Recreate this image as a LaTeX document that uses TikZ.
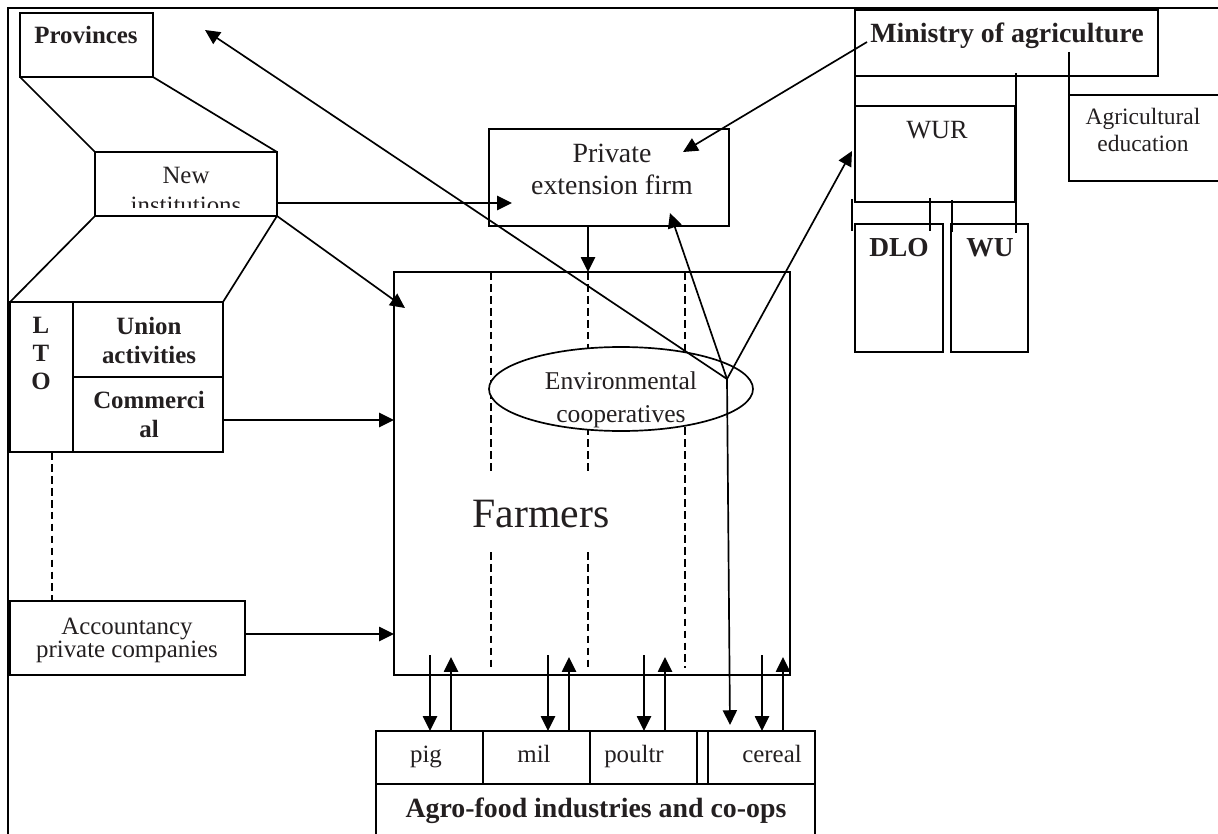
\documentclass[tikz,border=0pt]{standalone}
\usepackage{fontspec}
\setmainfont{Liberation Serif}
\usetikzlibrary{arrows.meta,shapes.geometric}
\definecolor{ink}{RGB}{35,31,32}

\tikzset{
  box/.style={draw, line width=1.2pt, inner sep=0pt, outer sep=0pt, anchor=north west},
  wh/.style 2 args={minimum width=#1*0.025cm, minimum height=#2*0.025cm},
  link/.style={line width=1.2pt},
  arr/.style={line width=1.2pt, -{Triangle[length=10.5pt,width=10pt]}},
  dsh/.style={line width=1.2pt, dash pattern=on 5.5pt off 3pt},
  lbl/.style={text=ink, inner sep=0pt, anchor=base, align=center},
  fs/.style 2 args={font=\fontsize{#1}{#2}\selectfont},
  fsb/.style 2 args={font=\fontsize{#1}{#2}\selectfont\bfseries}
}

\begin{document}
\begin{tikzpicture}[x=0.025cm,y=-0.025cm]
        \useasboundingbox (0,0) rectangle (1218,834);

        % frame
        \draw[link] (8,834) -- (8,8) -- (1218,8);

        % provinces and new institutions
        \node[box,wh={133}{64}] (prov) at (20,13) {};
        \node[lbl,fsb={17.7}{20}] (provtxt) at (86,44) {Provinces};
        \node[box,wh={182}{64}] (newinst) at (95,152) {};
        \begin{scope}
            \clip (95,152) rectangle (277,208);
            \node[lbl,fs={17.7}{22}] (newtxt) at (186,214) {New\\institutions};
        \end{scope}
        \draw[link] (prov.south west) -- (newinst.north west);
        \draw[link] (prov.south east) -- (newinst.north east);

        % LTO block
        \node[box,wh={63}{150}] (lto) at (10,302) {};
        \node[box,wh={150}{75}] (union) at (73,302) {};
        \node[box,wh={150}{75}] (comm) at (73,377) {};
        \draw[link] (newinst.south west) -- (lto.north west);
        \draw[link] (newinst.south east) -- (union.north east);
        \node[lbl,fsb={17.7}{19.9}] (ltotxt) at (41,389) {L\\T\\O};
        \node[lbl,fsb={17.7}{20.6}] (uniontxt) at (149,363) {Union\\activities};
        \node[lbl,fsb={17.7}{20.6}] (commtxt) at (149,437) {Commerci\\al};

        % accountancy
        \node[box,wh={235}{74}] (acct) at (10,601) {};
        \node[lbl,fs={17.7}{16.2}] (accttxt) at (127,657) {Accountancy\\private companies};
        \coordinate (ltodash) at (52,0);
        \draw[dsh] (lto.south -| ltodash) -- (acct.north -| ltodash);

        % farmers
        \node[box,wh={396}{403}] (farmers) at (394,272) {};
        \foreach \dx in {491,588} {
            \draw[dsh] (\dx,0 |- farmers.north) -- (\dx,473);
            \draw[dsh] (\dx,552) -- (\dx,668);
        }
        \draw[dsh] (685,0 |- farmers.north) -- (685,668);
        \node[draw,ellipse,fill=white,line width=1.2pt,inner sep=0pt,
              minimum width=264*0.025cm,minimum height=84*0.025cm] (envcoop) at (621,389) {};
        \node[lbl,fs={18.2}{22.8}] (envtxt) at (621,422) {Environmental\\cooperatives};
        \node[lbl,fs={29.7}{34}] (farmtxt) at (541,527) {Farmers};

        % private extension firm
        \node[box,wh={240}{97}] (firm) at (489,129) {};
        \node[lbl,fs={19.8}{22.8}] (firmtxt) at (612,195) {Private\\extension firm};

        % ministry and research
        \node[box,wh={303}{66}] (mina) at (855,10) {};
        \node[lbl,fsb={19.8}{22}] (minatxt) at (1007,43) {Ministry of agriculture};
        \node[box,wh={160}{86}] (agedu) at (1069,95) {};
        \node[lbl,fs={16.7}{19.2}] (agedutxt) at (1143,152) {Agricultural\\education};
        \node[box,wh={160}{96}] (wur) at (855,106) {};
        \node[lbl,fs={18.7}{21}] (wurtxt) at (937,139) {WUR};
        \node[box,wh={88}{128}] (dlo) at (855,224) {};
        \node[box,wh={77}{128}] (wu) at (951,224) {};
        \node[lbl,fsb={19.5}{22}] (dlotxt) at (899,257) {DLO};
        \node[lbl,fsb={19.5}{22}] (wutxt) at (990,257) {WU};
        \draw[link] (mina.south west) -- (wur.north west);
        \draw[link] (agedu.north west) ++(0,-43) -- ++(0,55);
        \draw[link] (wur.north east) ++(1,-33) -- ++(0,160);
        \draw[link] (dlo.north west) ++(-3,-25) -- ++(0,32);
        \draw[link] (dlo.north west) ++(75,-26) -- ++(0,33);
        \draw[link] (wu.north west) ++(1,-24) -- ++(0,32);

        % agro-food industries
        \foreach \cx/\name in {376/pig,483/mil,590/poultr,708/cereal}
            \node[box,wh={107}{53}] (\name) at (\cx,731) {};
        \node[box,wh={11}{53}] (split) at (697,731) {};
        \node[box,wh={439}{70}] (agro) at (376,784) {};
        \node[lbl,fs={17.7}{20}] (pigtxt) at (426,762) {pig};
        \node[lbl,fs={17.7}{20}] (miltxt) at (534,762) {mil};
        \node[lbl,fs={17.7}{20}] (poultrtxt) at (634,762) {poultr};
        \node[lbl,fs={17.7}{20}] (cerealtxt) at (772,762) {cereal};
        \node[lbl,fsb={19.8}{22}] (agrotxt) at (596,817) {Agro-food industries and co-ops};

        % flows
        \coordinate (firmin) at (512,203);
        \draw[arr] (newinst.east |- firmin) -- (firmin);
        \coordinate (farmin) at (405,308);
        \draw[arr] (newinst.south east) -- (farmin);
        \coordinate (commout) at (223,420);
        \draw[arr] (commout) -- (commout -| farmers.west);
        \coordinate (acctout) at (245,634);
        \draw[arr] (acctout) -- (acctout -| farmers.west);
        \draw[arr] (588,0 |- firm.south) -- (588,0 |- farmers.north);
        \coordinate (minout) at (867,42);
        \coordinate (firmtop) at (683,152);
        \draw[arr] (minout) -- (firmtop);

        % links from the cooperatives
        \coordinate (hub) at (727,379);
        \coordinate (provin) at (205,30);
        \coordinate (wurin) at (852,151);
        \coordinate (firmlow) at (670,213);
        \coordinate (cerealin) at (730,725);
        \draw[arr] (hub) -- (provin);
        \draw[arr] (hub) -- (wurin);
        \draw[arr] (hub) -- (firmlow);
        \draw[arr] (hub) -- (cerealin);

        % farmers to industries and back
        \foreach \xa/\xb/\name in {430/451/pig,548/569/mil,644/665/poultr,762/783/cereal} {
            \draw[arr] (\xa,655) -- (\xa,0 |- \name.north);
            \draw[arr] (\xb,0 |- \name.north) -- (\xb,657);
        }
    \end{tikzpicture}
\end{document}
